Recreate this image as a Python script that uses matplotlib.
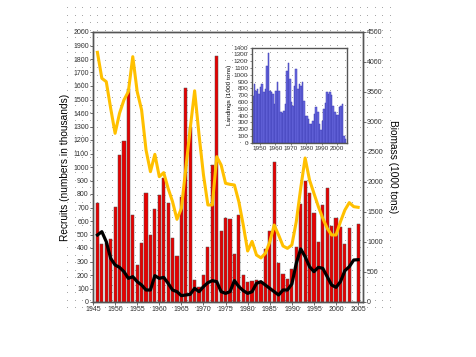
import numpy as np
import matplotlib
matplotlib.use("Agg")
import matplotlib.pyplot as plt

plt.rcParams['font.family'] = ['Liberation Sans', 'DejaVu Sans']

years = list(range(1946, 2006))
recruits = [731, 427, 434, 469, 706, 1086, 1195, 1580, 642, 277,
            440, 805, 496, 686, 793, 918, 731, 476, 341, 780,
            1585, 1297, 166, 109, 200, 405, 1015, 1824, 526, 625,
            615, 353, 642, 200, 146, 155, 160, 151, 392, 525,
            1039, 286, 205, 170, 242, 410, 723, 896, 810, 657,
            442, 718, 842, 565, 625, 553, 430, 550, 0, 578]
biomass = [4161, 3728, 3672, 3228, 2811, 3144, 3367, 3506, 4089, 3506,
           3200, 2533, 2172, 2461, 2089, 2156, 1894, 1672, 1378, 1560,
           2228, 2894, 3520, 2783, 2117, 1617, 1617, 2422, 2283, 1978,
           1961, 1950, 1672, 1283, 850, 1010, 783, 735, 811, 1000,
           1283, 1117, 933, 894, 950, 1339, 1894, 2400, 2033, 1811,
           1589, 1394, 1228, 1117, 1117, 1339, 1533, 1656, 1589, 1578]
ssb = [1117, 1172, 1006, 728, 617, 578, 506, 394, 422, 339,
       283, 200, 200, 439, 394, 411, 311, 200, 172, 106,
       117, 128, 228, 172, 256, 322, 356, 339, 172, 144,
       172, 356, 256, 189, 144, 172, 311, 339, 283, 228,
       172, 117, 200, 200, 300, 644, 885, 756, 589, 506,
       578, 561, 422, 283, 244, 339, 522, 589, 700, 705]

land_years = list(range(1945, 2006))
landings = [693, 863, 766, 790, 717, 815, 863, 741, 790, 1132,
            1327, 766, 741, 717, 571, 766, 888, 766, 449, 439,
            473, 571, 1059, 1180, 937, 595, 546, 839, 1093, 790,
            863, 839, 888, 620, 400, 390, 351, 278, 278, 327,
            424, 522, 449, 278, 180, 327, 498, 585, 751, 717,
            741, 702, 546, 449, 410, 410, 522, 546, 571, 98, 58]

W, H = 476, 357
fig = plt.figure(figsize=(W / 100, H / 100), dpi=100)

# dotted background grid
bg = fig.add_axes([0, 0, 1, 1])
bg.set_xlim(0, W)
bg.set_ylim(H, 0)
bg.axis("off")
gx, gy = np.meshgrid(np.arange(67, 396, 7.5), np.arange(8, 313, 7.5))
bg.plot(gx.ravel(), gy.ravel(), ",", color="#a8a8a8")

ax = fig.add_axes([93 / W, 1 - 302 / H, 270 / W, 270 / H])
ax.set_facecolor("none")
ax.bar(years, recruits, width=0.72, color="#e80000", edgecolor="#505050", linewidth=0.35, zorder=2)
ax.set_xlim(1945, 2006.1)
ax.set_ylim(0, 2000)
ax.set_xticks(range(1945, 2006, 5))
ax.set_yticks(range(0, 2001, 100))
ax.set_ylabel("Recruits (numbers in thousands)", fontsize=7.3, labelpad=2)

ax2 = ax.twinx()
ax2.plot(years, biomass, color="#ffc000", lw=2.2, solid_joinstyle="round", zorder=3)
ax2.plot(years, ssb, color="black", lw=2.3, solid_joinstyle="round", zorder=4)
ax2.set_ylim(0, 4500)
ax2.set_yticks(range(0, 4501, 500))
ax2.set_ylabel("Biomass (1000 tons)", fontsize=7.3, rotation=270, labelpad=11)

for a in (ax, ax2):
    for s in a.spines.values():
        s.set_color("#555555")
        s.set_linewidth(1)
    a.tick_params(labelsize=5, colors="#555555", labelcolor="#333333", length=2, width=0.6, pad=1)

ins = fig.add_axes([251.7 / W, 1 - 142.7 / H, 95 / W, 95 / H])
ins.set_facecolor("none")
ins.bar(land_years, landings, width=1.0, align="edge", color="#6a6ae0", edgecolor="#3c3cb4", linewidth=0.35)
ins.set_xlim(1944.7, 2006.2)
ins.set_ylim(0, 1400)
ins.set_xticks(range(1950, 2001, 10))
ins.set_yticks(range(0, 1401, 100))
ins.set_ylabel("Landings (1000 tons)", fontsize=4.6, labelpad=1)
for s in ins.spines.values():
    s.set_color("#555555")
    s.set_linewidth(1)
ins.tick_params(labelsize=4.6, colors="#555555", labelcolor="#333333", length=1.5, width=0.5, pad=1)

fig.savefig("out.png", dpi=100)
